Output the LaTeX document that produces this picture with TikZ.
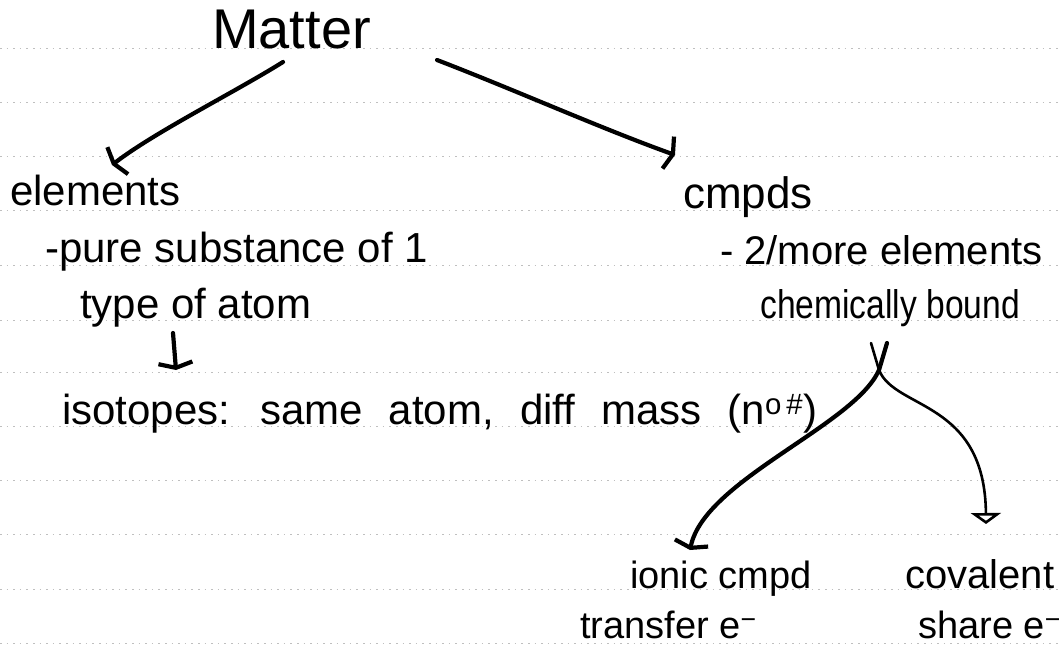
\documentclass[tikz,border=0pt]{standalone}
\usepackage{fontspec}
\setmainfont{Liberation Sans}
\usetikzlibrary{arrows.meta,calc}

\tikzset{
  rule/.style={gray!50, line width=0.9pt, dash pattern=on 1.6pt off 5pt},
  note/.style={anchor=base west, inner sep=0pt, text=black},
  arr/.style={line width=4.2pt, line cap=round, line join=round,
    -{Straight Barb[length=5pt,width=34pt,line width=4.2pt]}},
  openarr/.style={line width=2.6pt, line cap=round, line join=round,
    -{Triangle[open,length=11pt,width=30pt,line width=2.6pt]}},
  fs/.style={font=\fontsize{#1}{#1}\selectfont}
}

\begin{document}
\begin{tikzpicture}[x=1pt,y=-1pt]
  % page and ruling
  \fill[white] (0,0) rectangle (1062,648);
  \useasboundingbox (0,0) rectangle (1062,648);
  \foreach \yy in {48,102,156,210,265,320,372,426,480,534,589,643}
    \draw[rule] (0,\yy) -- (1062,\yy);

  % notes
  \node[note, fs=56] (matter)   at (212,48)  {Matter};
  \node[note, fs=42] (elements) at (10,205)  {elements};
  \node[note, fs=42] (pure)     at (45,262)  {-pure substance of 1};
  \node[note, fs=42] (type)     at (80,318)  {type of atom};
  \node[note, fs=42] (isotopes) at (62,424)
    {\spaceskip=0.62em plus 0.1em isotopes: same atom, diff mass (n\textsuperscript{o\,\#})};
  \node[note, fs=44] (cmpds)    at (683,208) {cmpds};
  \node[note, fs=40] (more)     at (720,264) {- 2/more elements};
  \node[note, fs=40] (bound)    at (760,318) {\scalebox{0.84}[1]{chemically bound}};
  \node[note, fs=38] (ionic)    at (630,588) {ionic cmpd};
  \node[note, fs=40] (covalent) at (905,588) {covalent};
  \node[note, fs=38] (transfer) at (580,638) {transfer e\textsuperscript{−}};
  \node[note, fs=38] (share)    at (918,638) {share e\textsuperscript{−}};

  % Matter splits into elements and compounds
  \draw[arr] ($(matter.base west)+(71,14)$)
    .. controls ($(matter.base west)+(23,44)$) and ($(matter.base west)+(-57,84)$)
    .. ($(elements.base west)+(102,-40)$);
  \draw[arr] ($(matter.base west)+(225,12)$)
    .. controls ($(matter.base west)+(303,42)$) and ($(matter.base west)+(388,80)$)
    .. ($(cmpds.base west)+(-8,-53)$);

  % elements lead on to isotopes
  \draw[arr] ($(type.base west)+(93,15)$) -- ($(isotopes.base west)+(114,-54)$);

  % compounds fork into ionic and covalent
  \coordinate (fork) at ($(bound.base west)+(119,52)$);
  \draw[arr] ($(fork)+(8,-27)$) -- (fork)
    .. controls ($(fork)+(-24,55)$) and ($(fork)+(-174,110)$)
    .. ($(ionic.base west)+(60,-38)$);
  \draw[openarr] ($(fork)+(-8,-27)$) -- (fork)
    .. controls ($(fork)+(16,40)$) and ($(fork)+(106,30)$)
    .. ($(covalent.base west)+(81,-64)$);
\end{tikzpicture}
\end{document}
